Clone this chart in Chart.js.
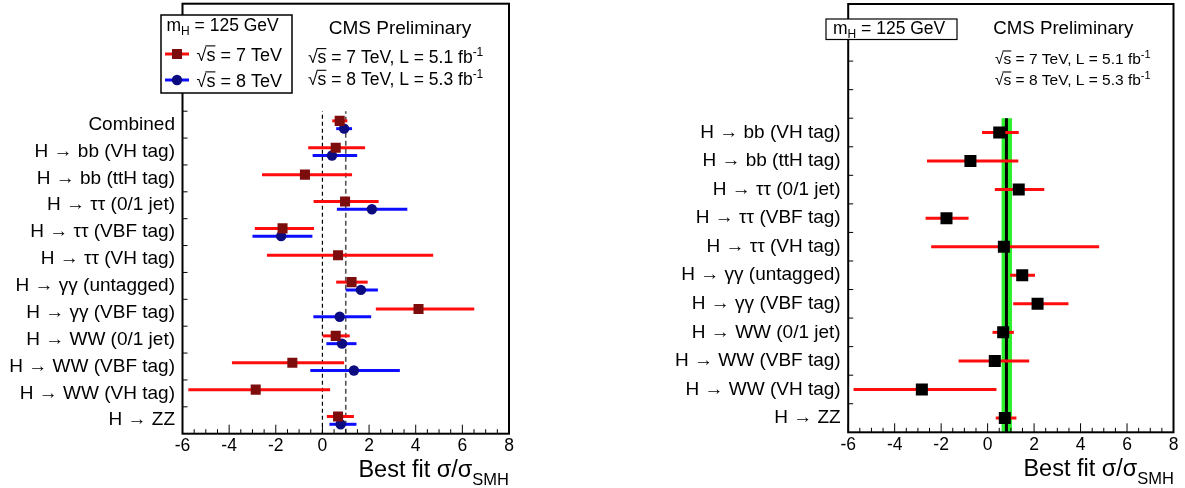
<!DOCTYPE html>
<html><head><meta charset="utf-8">
<script src="https://cdn.jsdelivr.net/npm/chart.js@4.4.1/dist/chart.umd.min.js"></script>
<style>
html,body{margin:0;padding:0;background:#fff;overflow:hidden}
#wrap{position:relative;width:1185px;height:488px;background:#fff}
canvas{position:absolute;top:0}
</style></head><body>
<div id="wrap">
<canvas id="c1" width="592" height="488" style="left:0"></canvas>
<canvas id="c2" width="593" height="488" style="left:592px"></canvas>
</div>
<script>
const FONT = '"Liberation Sans", Arial, Helvetica, sans-serif';

// ---------- data: left panel (7 TeV and 8 TeV separately) ----------
const leftCategories = ['Combined','H → bb (VH tag)','H → bb (ttH tag)','H → ττ (0/1 jet)','H → ττ (VBF tag)','H → ττ (VH tag)','H → γγ (untagged)','H → γγ (VBF tag)','H → WW (0/1 jet)','H → WW (VBF tag)','H → WW (VH tag)','H → ZZ'];
const mu7 = [0.74, 0.57, -0.75, 0.97, -1.71, 0.67, 1.25, 4.12, 0.57, -1.29, -2.86, 0.67];
const lo7 = [0.42, -0.61, -2.59, -0.38, -2.90, -2.38, 0.59, 2.29, 0.01, -3.88, -5.75, 0.19];
const hi7 = [1.07, 1.83, 1.27, 2.41, -0.36, 4.75, 1.94, 6.51, 1.17, 0.93, 0.33, 1.35];
const mu8 = [0.93, 0.41, null, 2.12, -1.77, null, 1.65, 0.74, 0.84, 1.35, null, 0.78];
const lo8 = [0.59, -0.42, null, 0.62, -3.00, null, 1.00, -0.39, 0.17, -0.52, null, 0.30];
const hi8 = [1.27, 1.49, null, 3.64, -0.43, null, 2.38, 2.09, 1.46, 3.32, null, 1.46];
const leftRefLines = [0, 1];

// ---------- data: right panel (7+8 TeV combined per channel) ----------
const rightCategories = ['H → bb (VH tag)','H → bb (ttH tag)','H → ττ (0/1 jet)','H → ττ (VBF tag)','H → ττ (VH tag)','H → γγ (untagged)','H → γγ (VBF tag)','H → WW (0/1 jet)','H → WW (VBF tag)','H → WW (VH tag)','H → ZZ'];
const muComb = [0.50, -0.74, 1.34, -1.77, 0.70, 1.49, 2.15, 0.67, 0.31, -2.83, 0.74];
const loComb = [-0.24, -2.61, 0.31, -2.67, -2.43, 0.97, 1.10, 0.21, -1.25, -5.77, 0.35];
const hiComb = [1.34, 1.32, 2.44, -0.82, 4.80, 2.04, 3.48, 1.13, 1.79, 0.38, 1.24];
const combinedMu = 0.81;
const combinedBand = [0.60, 1.05];

const xTicks = [-6, -4, -2, 0, 2, 4, 6, 8];

// ---------- helpers ----------
const leftPos = i => leftCategories.length - 0.5 - i;
const rightPos = i => rightCategories.length - 0.5 - i;

function drawRich(ctx, x, y, parts, align) {
  let total = 0;
  const w = parts.map(p => { ctx.font = p.size + 'px ' + FONT; const m = ctx.measureText(p.t).width + (p.gap || 0); total += m; return m; });
  let cx = align === 'right' ? x - total : align === 'center' ? x - total / 2 : x;
  ctx.textAlign = 'left'; ctx.textBaseline = 'alphabetic'; ctx.fillStyle = '#000';
  parts.forEach((p, k) => {
    ctx.font = p.size + 'px ' + FONT;
    ctx.fillText(p.t, cx, y + (p.dy || 0));
    if (p.over) {
      ctx.strokeStyle = '#000'; ctx.lineWidth = 1.1;
      ctx.beginPath(); ctx.moveTo(cx - 1, y - p.size * 0.84); ctx.lineTo(cx + w[k], y - p.size * 0.84); ctx.stroke();
    }
    cx += w[k];
  });
}
const sqrtS = (size, rest) => [{t:'√', size}, {t:'s', size, over:true}, {t: rest, size}];

function frameAndTicks(chart, nY) {
  const {ctx, chartArea:a, scales:{x, y}} = chart;
  ctx.save();
  ctx.strokeStyle = '#000'; ctx.lineWidth = 1;
  ctx.beginPath();
  for (let v = -6; v <= 8.001; v += 0.5) {
    const px = x.getPixelForValue(v);
    const major = Math.abs(v / 2 - Math.round(v / 2)) < 1e-6;
    ctx.moveTo(px, a.bottom); ctx.lineTo(px, a.bottom - (major ? 9 : 4.5));
  }
  for (let v = 1; v < nY; v++) {
    const py = y.getPixelForValue(v);
    ctx.moveTo(a.left, py); ctx.lineTo(a.left + 5, py);
  }
  ctx.stroke();
  ctx.lineWidth = 2;
  ctx.strokeRect(a.left, a.top, a.right - a.left, a.bottom - a.top);
  ctx.restore();
}

function errorBars(chart, series) {
  const {ctx, scales:{x, y}} = chart;
  ctx.save();
  ctx.lineWidth = 3; ctx.lineCap = 'butt';
  series.forEach(s => {
    ctx.strokeStyle = s.color;
    s.lo.forEach((l, i) => {
      if (l == null) return;
      const py = y.getPixelForValue(s.pos(i));
      ctx.beginPath(); ctx.moveTo(x.getPixelForValue(l), py); ctx.lineTo(x.getPixelForValue(s.hi[i]), py); ctx.stroke();
    });
  });
  ctx.restore();
}

function axisTitle(ctx, xr, base) {
  drawRich(ctx, xr, base, [{t:'Best fit σ/σ', size:23.5}, {t:'SMH', size:16.5, dy:8.5}], 'right');
}

function baseOptions(pad, yW, xH, yMax, cats, posFn) {
  return {
    responsive:false, animation:false, events:[],
    layout:{padding:pad, autoPadding:false},
    plugins:{legend:{display:false}, tooltip:{enabled:false}},
    scales:{
      x:{type:'linear', min:-6, max:8,
         afterBuildTicks: ax => { ax.ticks = xTicks.map(v => ({value:v})); },
         afterFit: s => { s.height = xH; s.paddingLeft = 0; s.paddingRight = 0; s.paddingTop = 0; s.paddingBottom = 0; },
         grid:{display:false, drawTicks:false}, border:{display:false},
         ticks:{callback: v => String(v), font:{family:FONT, size:17.5}, color:'#000', padding:2, maxRotation:0, autoSkip:false}},
      y:{type:'linear', min:0, max:yMax,
         afterBuildTicks: ax => { ax.ticks = cats.map((c, i) => ({value: posFn(i)})); },
         afterFit: s => { s.width = yW; s.paddingTop = 0; s.paddingBottom = 0; s.paddingLeft = 0; s.paddingRight = 0; },
         grid:{display:false, drawTicks:false}, border:{display:false},
         ticks:{callback: v => cats[Math.round(cats.length - 0.5 - v)], font:{family:FONT, size:19}, color:'#000', padding:7.5, autoSkip:false}}
    }
  };
}

// ---------- left chart ----------
const leftPlugin = {
  id:'leftDeco',
  beforeDatasetsDraw(chart) {
    const {ctx, scales:{x, y}} = chart;
    ctx.save();
    leftRefLines.forEach((v, k) => {
      const px = x.getPixelForValue(v);
      ctx.strokeStyle = k === 0 ? '#000' : '#555';
      ctx.lineWidth = k === 0 ? 1.2 : 1.6;
      ctx.setLineDash(k === 0 ? [4, 3] : [5, 3]);
      ctx.beginPath(); ctx.moveTo(px, y.getPixelForValue(0)); ctx.lineTo(px, y.getPixelForValue(leftCategories.length)); ctx.stroke();
    });
    ctx.restore();
    errorBars(chart, [
      {color:'#ff0d0d', lo:lo7, hi:hi7, pos: i => leftPos(i) + 0.14},
      {color:'#0d0dff', lo:lo8, hi:hi8, pos: i => leftPos(i) - 0.15}
    ]);
  },
  afterDatasetsDraw(chart) { frameAndTicks(chart, 16); },
  afterDraw(chart) {
    const ctx = chart.ctx;
    ctx.save();
    ctx.fillStyle = '#fff'; ctx.fillRect(161, 15, 131, 78);
    ctx.strokeStyle = '#000'; ctx.lineWidth = 1.5; ctx.strokeRect(161, 15, 131, 78);
    drawRich(ctx, 166.5, 30.5, [{t:'m', size:17.5}, {t:'H', size:12, dy:4}, {t:' = 125 GeV', size:17.5}], 'left');
    ctx.lineWidth = 3;
    ctx.strokeStyle = '#ff0d0d'; ctx.beginPath(); ctx.moveTo(165, 54); ctx.lineTo(189, 54); ctx.stroke();
    ctx.fillStyle = '#7d0d0d'; ctx.fillRect(172, 49, 10, 10);
    ctx.strokeStyle = '#0d0dff'; ctx.beginPath(); ctx.moveTo(165, 80); ctx.lineTo(189, 80); ctx.stroke();
    ctx.fillStyle = '#0c0c80'; ctx.beginPath(); ctx.arc(177, 80, 5.2, 0, Math.PI * 2); ctx.fill();
    drawRich(ctx, 196.5, 61, sqrtS(18, ' = 7 TeV'), 'left');
    drawRich(ctx, 196.5, 87, sqrtS(18, ' = 8 TeV'), 'left');
    drawRich(ctx, 400, 33.5, [{t:'CMS Preliminary', size:19}], 'center');
    drawRich(ctx, 308, 63.3, [...sqrtS(17.5, ' = 7 TeV, L = 5.1 fb'), {t:'-1', size:12, dy:-7.5}], 'left');
    drawRich(ctx, 308, 85, [...sqrtS(17.5, ' = 8 TeV, L = 5.3 fb'), {t:'-1', size:12, dy:-7.5}], 'left');
    axisTitle(ctx, 509, 476.5);
    ctx.restore();
  }
};

const d7 = mu7.map((v, i) => ({x:v, y:leftPos(i) + 0.14}));
const d8 = mu8.map((v, i) => v == null ? null : ({x:v, y:leftPos(i) - 0.15})).filter(p => p);

new Chart(document.getElementById('c1'), {
  type:'scatter',
  data:{datasets:[
    {label:'√s = 7 TeV', data:d7, pointStyle:'rect', pointRadius:7.1, backgroundColor:'#7d0d0d', borderWidth:0},
    {label:'√s = 8 TeV', data:d8, pointStyle:'circle', pointRadius:5.2, backgroundColor:'#0c0c80', borderWidth:0}
  ]},
  options: baseOptions({left:0, right:83, top:3.7, bottom:0}, 182.5, 54.3, 16, leftCategories, leftPos),
  plugins:[leftPlugin]
});

// ---------- right chart ----------
const rightPlugin = {
  id:'rightDeco',
  beforeDatasetsDraw(chart) {
    const {ctx, scales:{x, y}} = chart;
    ctx.save();
    const x0 = x.getPixelForValue(combinedBand[0]), x1 = x.getPixelForValue(combinedBand[1]);
    const yTop = y.getPixelForValue(rightCategories.length), yBot = y.getPixelForValue(0);
    ctx.fillStyle = '#2ef02e'; ctx.fillRect(x0, yTop, x1 - x0, yBot - yTop);
    ctx.strokeStyle = '#000'; ctx.lineWidth = 3;
    const xm = x.getPixelForValue(combinedMu);
    ctx.beginPath(); ctx.moveTo(xm, yTop); ctx.lineTo(xm, yBot); ctx.stroke();
    ctx.restore();
    errorBars(chart, [{color:'#ff0d0d', lo:loComb, hi:hiComb, pos: i => rightPos(i)}]);
  },
  afterDatasetsDraw(chart) { frameAndTicks(chart, 15); },
  afterDraw(chart) {
    const ctx = chart.ctx;
    ctx.save();
    ctx.fillStyle = '#fff'; ctx.fillRect(234, 19, 131, 20.5);
    ctx.strokeStyle = '#000'; ctx.lineWidth = 1.2; ctx.strokeRect(234, 19, 131, 20.5);
    drawRich(ctx, 241, 33.5, [{t:'m', size:17.5}, {t:'H', size:12, dy:4}, {t:' = 125 GeV', size:17.5}], 'left');
    drawRich(ctx, 1063.3 - 592, 33.5, [{t:'CMS Preliminary', size:18.7}], 'center');
    drawRich(ctx, 995 - 592, 64, [...sqrtS(15.5, ' = 7 TeV, L = 5.1 fb'), {t:'-1', size:11, dy:-6.5}], 'left');
    drawRich(ctx, 995 - 592, 85, [...sqrtS(15.5, ' = 8 TeV, L = 5.3 fb'), {t:'-1', size:11, dy:-6.5}], 'left');
    axisTitle(ctx, 582, 475.5);
    ctx.restore();
  }
};

const dC = muComb.map((v, i) => ({x:v, y:rightPos(i)}));
new Chart(document.getElementById('c2'), {
  type:'scatter',
  data:{datasets:[
    {label:'combined', data:dC, pointStyle:'rect', pointRadius:8.5, backgroundColor:'#000', borderWidth:0}
  ]},
  options: baseOptions({left:0, right:11.5, top:4, bottom:0}, 256.2, 55.7, 15, rightCategories, rightPos),
  plugins:[rightPlugin]
});
</script>
</body></html>
